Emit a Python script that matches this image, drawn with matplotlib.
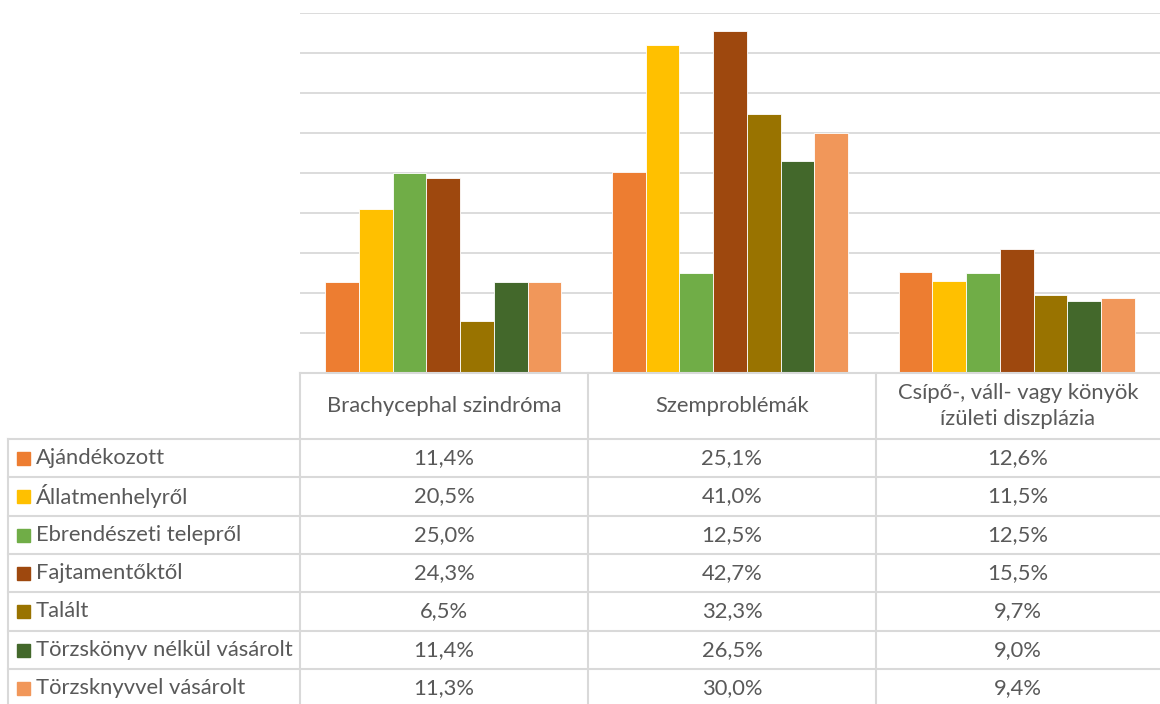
import numpy as np
import matplotlib
matplotlib.use("Agg")
import matplotlib.pyplot as plt
from matplotlib.lines import Line2D
from matplotlib.patches import Rectangle

categories = ["Brachycephal szindróma", "Szemproblémák",
              "Csípő-, váll- vagy könyök\nízületi diszplázia"]
series_names = ["Ajándékozott", "Állatmenhelyről", "Ebrendészeti telepről",
                "Fajtamentőktől", "Talált", "Törzskönyv nélkül vásárolt",
                "Törzsknyvvel vásárolt"]
ajandekozott = [11.4, 25.1, 12.6]
allatmenhely = [20.5, 41.0, 11.5]
ebrendeszet = [25.0, 12.5, 12.5]
fajtamento = [24.3, 42.7, 15.5]
talalt = [6.5, 32.3, 9.7]
nelkul = [11.4, 26.5, 9.0]
torzskonyvvel = [11.3, 30.0, 9.4]
series = [ajandekozott, allatmenhely, ebrendeszet, fajtamento, talalt,
          nelkul, torzskonyvvel]
colors = ["#ED7D31", "#FFC000", "#70AD47", "#9E480E", "#997300",
          "#43682B", "#F1975A"]

W, H = 1160, 704
plt.rcParams["font.family"] = ["Lato", "DejaVu Sans"]
text_color = "#595959"
grid_color = "#D9D9D9"
fs = 15.8

fig = plt.figure(figsize=(W / 100, H / 100), dpi=100)


def fx(px):
    return px / W


def fy(py):
    return 1 - py / H


# chart area
ax_left, ax_right, ax_top, ax_bottom = 300, 1160, 12.5, 373
ax = fig.add_axes([fx(ax_left), fy(ax_bottom), fx(ax_right - ax_left),
                   (ax_bottom - ax_top) / H])
n = len(series)
bw = 1 / (n + 1.5)
x = np.arange(len(categories))
for i, (vals, c) in enumerate(zip(series, colors)):
    ax.bar(x + (i - (n - 1) / 2) * bw, vals, bw, color=c,
           edgecolor="white", linewidth=0.6, zorder=3)
ax.set_xlim(-0.5, len(categories) - 0.5)
ax.set_ylim(0, 45)
ax.set_yticks(np.arange(0, 46, 5))
ax.grid(axis="y", color=grid_color, linewidth=1.3, zorder=0)
ax.tick_params(left=False, bottom=False, labelleft=False, labelbottom=False)
for s in ax.spines.values():
    s.set_visible(False)

# data table
col_edges = [300, 588, 876, 1160]
row_top = 439
row_h = 38.3
rows_y = [row_top + k * row_h for k in range(n + 1)]


def hline(x0, x1, y):
    fig.add_artist(Line2D([fx(x0), fx(x1)], [fy(y), fy(y)],
                          color=grid_color, linewidth=1.5))


def vline(xp, y0, y1):
    fig.add_artist(Line2D([fx(xp), fx(xp)], [fy(y0), fy(y1)],
                          color=grid_color, linewidth=1.5))


hline(300, 1160, 373)
for y in rows_y:
    hline(8, 1160, y)
for xp in col_edges[:-1]:
    vline(xp, 373, H + 5)
vline(8, row_top, H + 5)

for j, cat in enumerate(categories):
    cx = (col_edges[j] + col_edges[j + 1]) / 2
    fig.text(fx(cx), fy(406), cat, ha="center", va="center", fontsize=fs,
             color=text_color, linespacing=1.35)

for i, (name, vals, c) in enumerate(zip(series_names, series, colors)):
    cy = rows_y[i] + row_h / 2
    fig.add_artist(Rectangle((fx(17), fy(cy + 7)), fx(13), 13 / H,
                             color=c, transform=fig.transFigure))
    fig.text(fx(36), fy(cy), name, ha="left", va="center", fontsize=fs,
             color=text_color)
    for j, v in enumerate(vals):
        cx = (col_edges[j] + col_edges[j + 1]) / 2
        label = f"{v:.1f}".replace(".", ",") + "%"
        fig.text(fx(cx), fy(cy), label, ha="center", va="center",
                 fontsize=fs, color=text_color)

fig.savefig("out.png", dpi=100)
